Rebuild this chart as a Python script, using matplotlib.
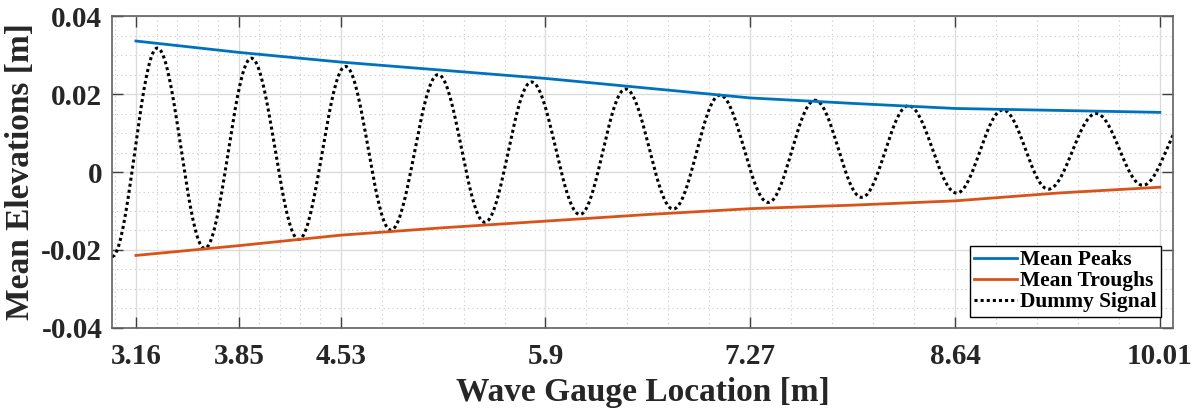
import numpy as np
import matplotlib
matplotlib.use("Agg")
import matplotlib.pyplot as plt

# Gauge locations [m] and mean peak / trough elevations [m]
gauge_x = [3.16, 3.845, 4.53, 5.215, 5.9, 6.585, 7.27, 7.955, 8.64, 9.325, 10.01]
mean_peaks = [0.0336, 0.0307, 0.0282, 0.0261, 0.0240, 0.0215, 0.0190, 0.0176, 0.0163, 0.0158, 0.0153]
mean_troughs = [-0.0214, -0.0189, -0.0162, -0.0143, -0.0126, -0.0109, -0.0094, -0.0085, -0.0074, -0.0054, -0.0039]

# Turning points of the dummy signal (alternating trough / peak)
signal_x = [3.0, 3.303, 3.62, 3.932, 4.249, 4.562, 4.865, 5.182, 5.494, 5.806, 6.13,
            6.436, 6.754, 7.067, 7.39, 7.703, 8.015, 8.328, 8.651, 8.96, 9.264,
            9.584, 9.896, 10.21]
signal_y = [-0.0217, 0.0318, -0.0196, 0.0292, -0.0173, 0.0271, -0.0149, 0.0250,
            -0.0129, 0.0231, -0.0109, 0.0213, -0.0095, 0.0197, -0.0078, 0.0184,
            -0.0065, 0.0170, -0.0054, 0.0159, -0.0044, 0.0150, -0.0034, 0.0145]

tick_labels = ["3.16", "3.85", "4.53", "5.9", "7.27", "8.64", "10.01"]
tick_pos = [3.16, 3.85, 4.53, 5.9, 7.27, 8.64, 10.01]
ytick_pos = [-0.04, -0.02, 0, 0.02, 0.04]
ytick_labels = ["-0.04", "-0.02", "0", "0.02", "0.04"]


def smooth_between(xs, ys, n=40):
    """Join turning points with half-cosine segments."""
    out_x, out_y = [], []
    for i in range(len(xs) - 1):
        t = np.linspace(0, 1, n, endpoint=False)
        w = (1 - np.cos(np.pi * t)) / 2
        out_x.extend(xs[i] + (xs[i + 1] - xs[i]) * t)
        out_y.extend(ys[i] + (ys[i + 1] - ys[i]) * w)
    out_x.append(xs[-1])
    out_y.append(ys[-1])
    return out_x, out_y


plt.rcParams["font.family"] = ["Liberation Serif", "DejaVu Serif"]
plt.rcParams["font.weight"] = "bold"

fig = plt.figure(figsize=(11.98, 4.12), dpi=100)
ax = fig.add_axes([0.0935, 0.204, 0.8855, 0.757])

sx, sy = smooth_between(signal_x, signal_y)
ax.plot(gauge_x, mean_peaks, color="#0072BD", lw=2.0, label="Mean Peaks", zorder=3)
ax.plot(gauge_x, mean_troughs, color="#D95319", lw=2.0, label="Mean Troughs", zorder=3)
ax.plot(sx, sy, color="black", lw=2.2, ls=(0, (1, 1)), label="Dummy Signal", zorder=2)

ax.set_xlim(3.0, 10.097)
ax.set_ylim(-0.04, 0.04)

ax.set_xticks(tick_pos)
ax.set_xticklabels(tick_labels)
ax.set_yticks(ytick_pos)
ax.set_yticklabels(ytick_labels)

# minor grid: five parts per major interval
minors = []
for a, b in zip(tick_pos[:-1], tick_pos[1:]):
    minors.extend(np.linspace(a, b, 6)[1:-1])
minors.append(tick_pos[0] - (tick_pos[1] - tick_pos[0]) / 5)
ax.set_xticks(minors, minor=True)
ax.set_yticks(np.arange(-0.04, 0.0401, 0.005), minor=True)

ax.grid(True, which="major", color="#dcdcdc", lw=1.0, ls="-")
ax.grid(True, which="minor", color="#c8c8c8", lw=0.8, ls=(0, (1, 3)))
ax.set_axisbelow(True)

ax.tick_params(which="major", direction="in", length=8, width=1.0, color="#404040",
               top=True, right=True, labelsize=21, labelcolor="#262626")
ax.tick_params(axis="x", which="major", pad=11)
ax.tick_params(axis="y", which="major", pad=7)
ax.tick_params(which="minor", length=0)
for s in ax.spines.values():
    s.set_color("#606060")
    s.set_linewidth(1.2)

ax.set_xlabel("Wave Gauge Location [m]", fontsize=24, fontweight="bold", color="#262626", labelpad=5)
ax.set_ylabel("Mean Elevations [m]", fontsize=24, fontweight="bold", color="#262626", labelpad=4)

leg = ax.legend(loc="lower right", bbox_to_anchor=(0.989, 0.036), fontsize=15.5,
                frameon=True, fancybox=False, edgecolor="black", framealpha=1,
                handlelength=2.0, handletextpad=0.15, borderpad=0.2, labelspacing=0.05,
                borderaxespad=0)
leg.get_frame().set_linewidth(1.0)
for t in leg.get_texts():
    t.set_fontweight("bold")

fig.savefig("out.png", dpi=100)
